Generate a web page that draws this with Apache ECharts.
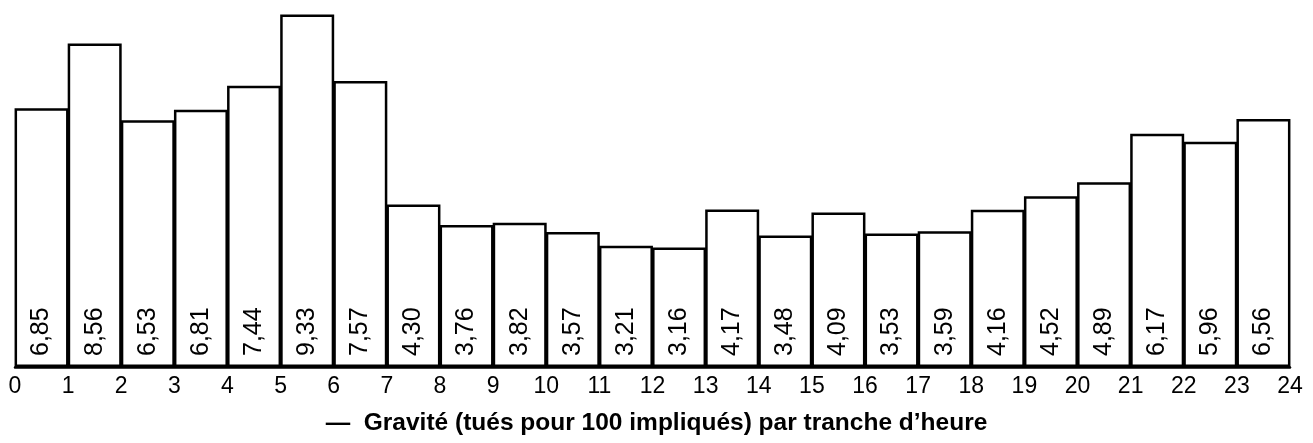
<!DOCTYPE html>
<html>
<head>
<meta charset="utf-8">
<script src="https://cdn.jsdelivr.net/npm/echarts@6/dist/echarts.min.js"></script>
<style>
  html, body { margin: 0; padding: 0; background: #fff; }
  #main { width: 1313px; height: 443px; }
</style>
</head>
<body>
<div id="main"></div>
<script>
// tranches horaires 0-1 ... 23-24
var hours = [];
for (var h = 0; h < 24; h++) { hours.push(h + '-' + (h + 1)); }
var gravite = [6.85, 8.56, 6.53, 6.81, 7.44, 9.33, 7.57, 4.30, 3.76, 3.82, 3.57, 3.21,
               3.16, 4.17, 3.48, 4.09, 3.53, 3.59, 4.16, 4.52, 4.89, 6.17, 5.96, 6.56];
var titre = '\u2014  Gravité (tués pour 100 impliqués) par tranche d\u2019heure';

var font = '"Liberation Sans", Arial, Helvetica, sans-serif';

var option = {
    animation: false,
    backgroundColor: '#fff',
    title: {
        text: titre,
        left: 'center',
        top: 411,
        padding: 0,
        textStyle: {
            fontFamily: font,
            fontWeight: 'bold',
            fontSize: 24.5,
            color: '#000'
        }
    },
    grid: {
        left: 15,
        right: 23,
        top: 8,
        bottom: 76
    },
    xAxis: [
        {
            type: 'category',
            data: hours,
            axisLine: { lineStyle: { color: '#000', width: 2.5 } },
            axisTick: { show: false },
            axisLabel: { show: false }
        },
        {
            // graduations aux limites des tranches
            type: 'value',
            position: 'bottom',
            min: 0,
            max: 24,
            interval: 1,
            axisLine: { show: false },
            axisTick: { show: false },
            splitLine: { show: false },
            axisLabel: {
                margin: 8,
                fontFamily: font,
                fontSize: 23,
                color: '#000'
            }
        }
    ],
    yAxis: {
        type: 'value',
        min: 0,
        max: 9.5,
        show: false
    },
    series: [
        {
            type: 'bar',
            data: gravite,
            barWidth: 54,
            itemStyle: {
                color: '#fff',
                borderColor: '#000',
                borderWidth: 2.5
            },
            label: {
                show: true,
                position: 'insideBottom',
                rotate: 90,
                align: 'left',
                verticalAlign: 'middle',
                distance: 11,
                fontFamily: font,
                fontSize: 25,
                color: '#000',
                formatter: function (p) {
                    return p.value.toFixed(2).replace('.', ',');
                }
            }
        }
    ]
};

var myChart = echarts.init(document.getElementById('main'));
myChart.setOption(option);
</script>
</body>
</html>
